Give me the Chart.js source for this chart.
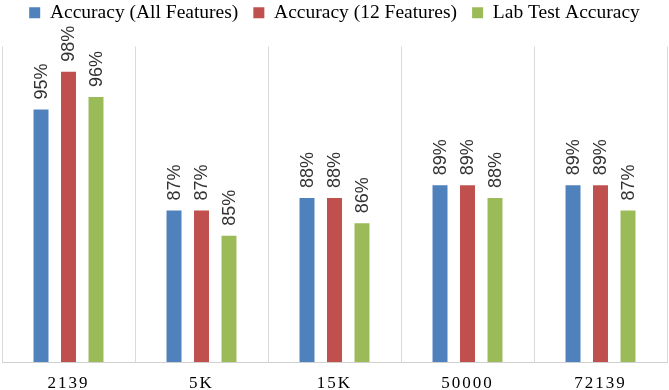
<!DOCTYPE html>
<html>
<head>
<meta charset="utf-8">
<script src="https://cdn.jsdelivr.net/npm/chart.js@4"></script>
<style>
  html, body { margin: 0; padding: 0; background: #fff; }
  #wrap { width: 669px; height: 390px; }
</style>
</head>
<body>
<div id="wrap"><canvas id="accChart"></canvas></div>
<script>
// data
const categories = ['2139', '5K', '15K', '50000', '72139'];
const accAllFeatures = [95, 87, 88, 89, 89];
const acc12Features = [98, 87, 88, 89, 89];
const labTestAcc = [96, 85, 86, 88, 87];
const yMin = 75, yMax = 100;

const serif = "'Liberation Serif', 'Times New Roman', serif";

// rotated percentage labels above each bar, then letter spacing for x labels
const barLabels = {
    id: 'barLabels',
    afterDatasetsDraw(chart) {
        const ctx = chart.ctx;
        ctx.save();
        ctx.font = "18px 'Liberation Sans Narrow', 'Liberation Sans', sans-serif";
        ctx.fillStyle = '#333';
        ctx.textAlign = 'left';
        ctx.textBaseline = 'middle';
        chart.data.datasets.forEach((ds, i) => {
            chart.getDatasetMeta(i).data.forEach((bar, j) => {
                ctx.save();
                ctx.translate(bar.x + 1, bar.y - 10);
                ctx.rotate(-Math.PI / 2);
                ctx.fillText(ds.data[j] + '%', 0, 0);
                ctx.restore();
            });
        });
        ctx.restore();
        ctx.letterSpacing = '2px';
    },
    afterDraw(chart) {
        chart.ctx.letterSpacing = '0px';
    }
};

new Chart(document.getElementById('accChart').getContext('2d'), {
    type: 'bar',
    data: {
        labels: categories,
        datasets: [
            { label: 'Accuracy (All Features)', data: accAllFeatures, backgroundColor: '#4f81bd', borderWidth: 0 },
            { label: 'Accuracy (12 Features)', data: acc12Features, backgroundColor: '#c0504d', borderWidth: 0 },
            { label: 'Lab Test Accuracy', data: labTestAcc, backgroundColor: '#9bbb59', borderWidth: 0 }
        ]
    },
    options: {
        responsive: true,
        maintainAspectRatio: false,
        animation: false,
        categoryPercentage: 0.62,
        barPercentage: 0.545,
        layout: { padding: { left: 2, right: 2, top: -12, bottom: 0 } },
        plugins: {
            tooltip: { enabled: false },
            legend: {
                position: 'top',
                labels: {
                    boxWidth: 11, boxHeight: 11, padding: 15,
                    color: '#000',
                    font: { family: serif, size: 19.5 }
                }
            }
        },
        scales: {
            x: {
                grid: { display: true, color: '#d9d9d9', drawTicks: false },
                border: { display: true, color: '#d0d0d0' },
                ticks: { color: '#000', padding: 13, z: 1, font: { family: serif, size: 17, lineHeight: 1 } },
                afterFit(s) { s.height = 28; }
            },
            x2: {
                position: 'top',
                grid: { display: false },
                border: { display: false },
                ticks: { display: false },
                afterFit(s) { s.height = 14; }
            },
            y: { display: false, min: yMin, max: yMax }
        }
    },
    plugins: [barLabels]
});
</script>
</body>
</html>
